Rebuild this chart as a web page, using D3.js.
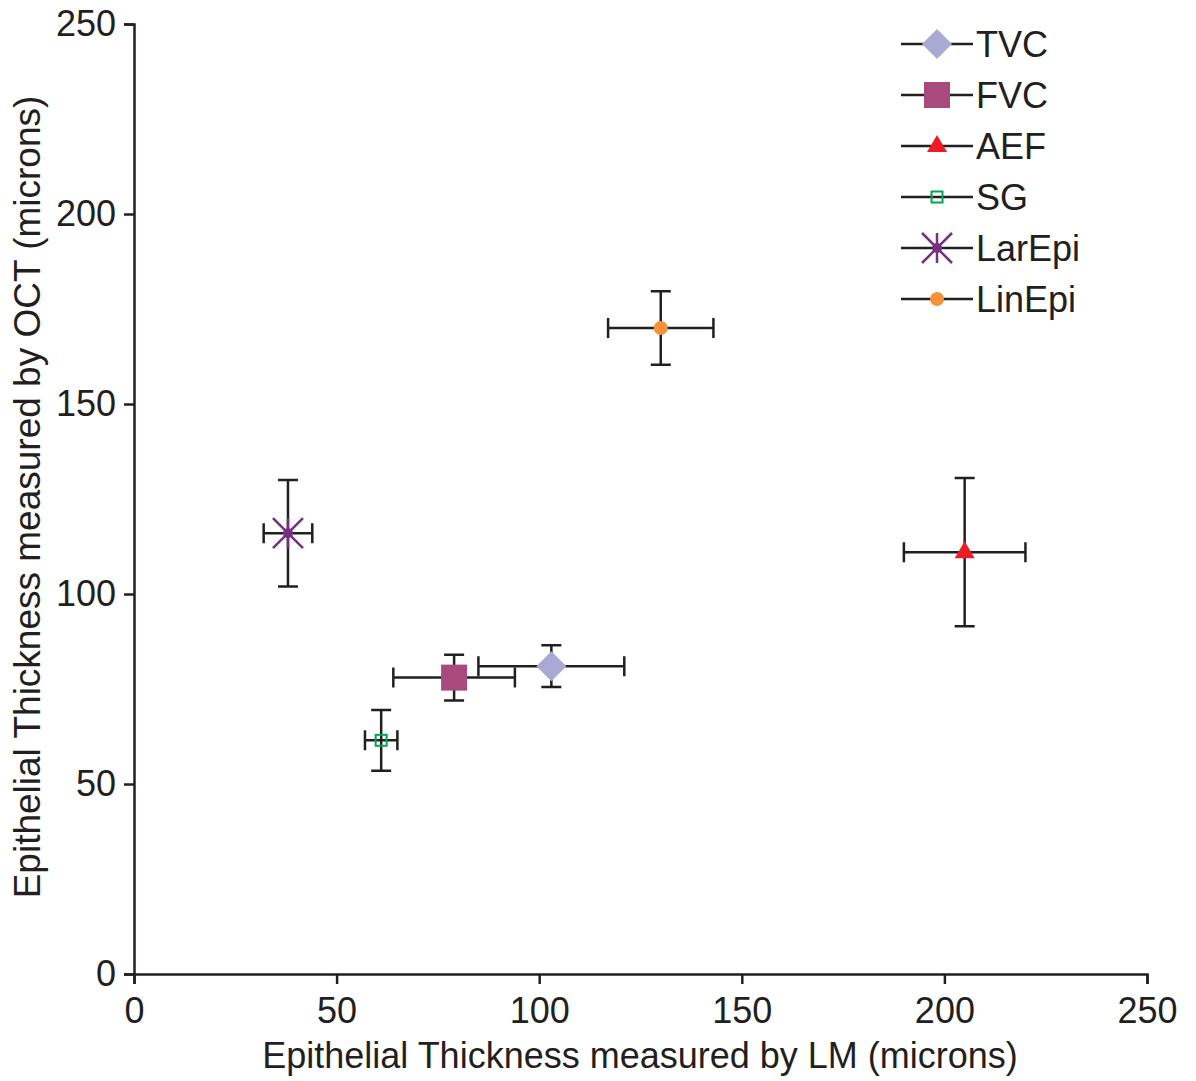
<!DOCTYPE html>
<html>
<head>
<meta charset="utf-8">
<script src="https://cdn.jsdelivr.net/npm/d3@7"></script>
<style>
  body { margin: 0; background: #fff; }
  svg text { font-family: "Liberation Sans", Arial, Helvetica, sans-serif; fill: #231f20; }
</style>
</head>
<body>
<div id="chart"></div>
<script>
// series names, means and SDs
var names   = ['TVC', 'FVC', 'AEF', 'SG', 'LarEpi', 'LinEpi'];
var lmMean  = [103, 79, 205, 61, 38, 130];
var lmSd    = [18, 15, 15, 4, 6, 13];
var octMean = [81, 78, 111, 61.5, 116, 170];
var octSd   = [5.5, 6, 19.5, 8, 14, 9.7];
var xTicks  = [0, 50, 100, 150, 200, 250];
var yTicks  = [0, 50, 100, 150, 200, 250];

var ink = '#231f20';
var colors = {
  TVC: '#a9a9d6', FVC: '#a94a7c', AEF: '#ed1c24',
  SG: '#00a651', LarEpi: '#772f80', LinEpi: '#f7923a'
};

var width = 1196, height = 1081;
var margin = {left: 134, right: 49, top: 24, bottom: 107};

var svg = d3.select('#chart').append('svg')
  .attr('width', width).attr('height', height);

var x = d3.scaleLinear().domain([0, 250]).range([margin.left, width - margin.right]);
var y = d3.scaleLinear().domain([0, 250]).range([height - margin.bottom, margin.top]);

var xAxis = svg.append('g')
  .attr('transform', 'translate(0,' + y(0) + ')')
  .call(d3.axisBottom(x).tickValues(xTicks).tickSize(10).tickPadding(13).tickFormat(d3.format('d')));
var yAxis = svg.append('g')
  .attr('transform', 'translate(' + x(0) + ',0)')
  .call(d3.axisLeft(y).tickValues(yTicks).tickSize(10).tickPadding(8).tickFormat(d3.format('d')));

[xAxis, yAxis].forEach(function(g) {
  g.select('.domain').attr('stroke', ink).attr('stroke-width', 2.5);
  g.selectAll('.tick line').attr('stroke', ink).attr('stroke-width', 2.5);
  g.selectAll('.tick text').style('font-size', '36px').attr('fill', ink);
});

svg.append('text')
  .attr('x', 640).attr('y', 1068)
  .attr('text-anchor', 'middle').style('font-size', '36px')
  .text('Epithelial Thickness measured by LM (microns)');

svg.append('text')
  .attr('transform', 'translate(40,497) rotate(-90)')
  .attr('text-anchor', 'middle').style('font-size', '37px')
  .text('Epithelial Thickness measured by OCT (microns)');

var data = names.map(function(n, i) {
  return {name: n, x: lmMean[i], xe: lmSd[i], y: octMean[i], ye: octSd[i]};
});

function drawMarker(g, name) {
  var c = colors[name];
  if (name === 'TVC') {
    g.append('path').attr('d', d3.symbol(d3.symbolSquare, 450)())
      .attr('transform', 'rotate(45)').attr('fill', c);
  } else if (name === 'FVC') {
    g.append('rect').attr('x', -13).attr('y', -13).attr('width', 26).attr('height', 26).attr('fill', c);
  } else if (name === 'AEF') {
    g.append('path').attr('d', 'M0,-11L10,6L-10,6Z').attr('fill', c);
  } else if (name === 'SG') {
    g.append('rect').attr('x', -5.5).attr('y', -5.5).attr('width', 11).attr('height', 11)
      .attr('fill', 'none').attr('stroke', c).attr('stroke-width', 2);
  } else if (name === 'LarEpi') {
    g.append('path').attr('d', 'M-15,-15L15,15M15,-15L-15,15M0,-15L0,15')
      .attr('stroke', c).attr('stroke-width', 2.5);
    g.append('circle').attr('r', 5).attr('fill', c);
  } else if (name === 'LinEpi') {
    g.append('circle').attr('r', 7).attr('fill', c);
  }
}

var cap = 10;
var pts = svg.append('g').selectAll('g').data(data).enter().append('g');

pts.each(function(d) {
  var g = d3.select(this);
  var path = d3.path();
  path.moveTo(x(d.x - d.xe), y(d.y)); path.lineTo(x(d.x + d.xe), y(d.y));
  path.moveTo(x(d.x - d.xe), y(d.y) - cap); path.lineTo(x(d.x - d.xe), y(d.y) + cap);
  path.moveTo(x(d.x + d.xe), y(d.y) - cap); path.lineTo(x(d.x + d.xe), y(d.y) + cap);
  path.moveTo(x(d.x), y(d.y + d.ye)); path.lineTo(x(d.x), y(d.y - d.ye));
  path.moveTo(x(d.x) - cap, y(d.y + d.ye)); path.lineTo(x(d.x) + cap, y(d.y + d.ye));
  path.moveTo(x(d.x) - cap, y(d.y - d.ye)); path.lineTo(x(d.x) + cap, y(d.y - d.ye));
  g.append('path').attr('d', path.toString()).attr('stroke', ink).attr('stroke-width', 2.5).attr('fill', 'none');
});

pts.each(function(d) {
  var m = d3.select(this).append('g').attr('transform', 'translate(' + x(d.x) + ',' + y(d.y) + ')');
  drawMarker(m, d.name);
});

// legend
var legend = svg.append('g').selectAll('g').data(names).enter().append('g')
  .attr('transform', function(d, i) { return 'translate(937,' + (44 + i * 51) + ')'; });
legend.append('line').attr('x1', -36).attr('x2', 36)
  .attr('stroke', ink).attr('stroke-width', 2.5);
legend.each(function(d) { drawMarker(d3.select(this), d); });
legend.append('text').attr('x', 39).attr('y', 13).style('font-size', '36px').text(function(d) { return d; });
</script>
</body>
</html>
